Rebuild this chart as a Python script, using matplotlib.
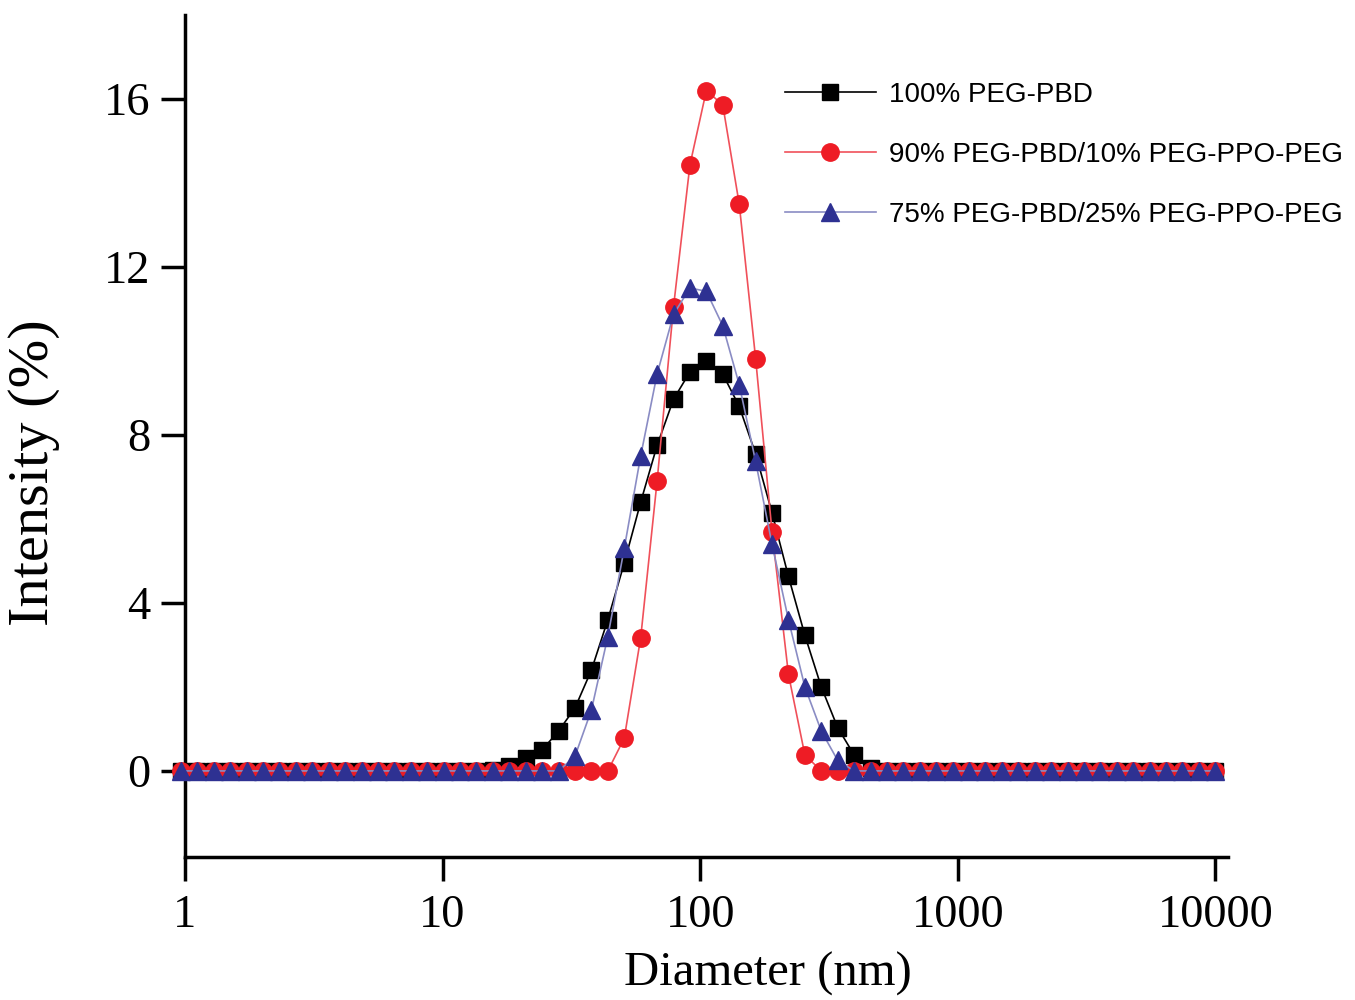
import matplotlib
matplotlib.use("Agg")
import matplotlib.pyplot as plt
from matplotlib.ticker import FixedLocator, NullLocator

# DLS size classes (nm)
diameter = [0.9649, 1.117, 1.294, 1.499, 1.736, 2.010, 2.328, 2.696, 3.122, 3.615,
            4.187, 4.849, 5.615, 6.503, 7.531, 8.721, 10.10, 11.70, 13.54, 15.69,
            18.17, 21.04, 24.36, 28.21, 32.67, 37.84, 43.82, 50.75, 58.77, 68.06,
            78.82, 91.28, 105.7, 122.4, 141.8, 164.2, 190.1, 220.2, 255.0, 295.3,
            342.0, 396.1, 458.7, 531.2, 615.1, 712.4, 825.0, 955.4, 1106, 1281,
            1484, 1718, 1990, 2305, 2669, 3091, 3580, 4145, 4801, 5560,
            6439, 7456, 8635, 10000]

peg_pbd_100 = [0, 0, 0, 0, 0, 0, 0, 0, 0, 0,
               0, 0, 0, 0, 0, 0, 0, 0, 0, 0.03,
               0.12, 0.3, 0.5, 0.95, 1.5, 2.4, 3.6, 4.95, 6.4, 7.75,
               8.85, 9.5, 9.75, 9.45, 8.68, 7.55, 6.15, 4.63, 3.23, 2.0,
               1.03, 0.38, 0.08, 0, 0, 0, 0, 0, 0, 0,
               0, 0, 0, 0, 0, 0, 0, 0, 0, 0,
               0, 0, 0, 0]

peg_pbd_90 = [0, 0, 0, 0, 0, 0, 0, 0, 0, 0,
              0, 0, 0, 0, 0, 0, 0, 0, 0, 0,
              0, 0, 0, 0, 0, 0, 0, 0.78, 3.17, 6.9,
              11.05, 14.43, 16.2, 15.86, 13.5, 9.82, 5.7, 2.3, 0.38, 0,
              0, 0, 0, 0, 0, 0, 0, 0, 0, 0,
              0, 0, 0, 0, 0, 0, 0, 0, 0, 0,
              0, 0, 0, 0]

peg_pbd_75 = [0, 0, 0, 0, 0, 0, 0, 0, 0, 0,
              0, 0, 0, 0, 0, 0, 0, 0, 0, 0,
              0, 0, 0, 0, 0.35, 1.45, 3.2, 5.3, 7.5, 9.45,
              10.87, 11.5, 11.42, 10.6, 9.2, 7.37, 5.4, 3.6, 2.0, 0.95,
              0.25, 0, 0, 0, 0, 0, 0, 0, 0, 0,
              0, 0, 0, 0, 0, 0, 0, 0, 0, 0,
              0, 0, 0, 0]

labels = ["100% PEG-PBD",
          "90% PEG-PBD/10% PEG-PPO-PEG",
          "75% PEG-PBD/25% PEG-PPO-PEG"]

x_ticks = [1, 10, 100, 1000, 10000]
y_ticks = [0, 4, 8, 12, 16]

fig = plt.figure(figsize=(13.55, 10), dpi=100)
ax = fig.add_axes([0.1365, 0.143, 0.77, 0.842])

ax.plot(diameter, peg_pbd_100, color="black", lw=1.2, marker="s", ms=11,
        mfc="black", mec="black", clip_on=False, zorder=3, label=labels[0])
ax.plot(diameter, peg_pbd_90, color="#f0505a", lw=1.2, marker="o", ms=12.5,
        mfc="#ee1c25", mec="#ee1c25", clip_on=False, zorder=4, label=labels[1])
ax.plot(diameter, peg_pbd_75, color="#8a8cc4", lw=1.2, marker="^", ms=13,
        mfc="#2e3192", mec="#2e3192", clip_on=False, zorder=5, label=labels[2])

ax.set_xscale("log")
ax.set_xlim(1, 11230)
ax.set_ylim(-2.05, 18)
ax.xaxis.set_major_locator(FixedLocator(x_ticks))
ax.xaxis.set_minor_locator(NullLocator())
ax.set_xticklabels([str(v) for v in x_ticks])
ax.set_yticks(y_ticks)

for s in ["top", "right"]:
    ax.spines[s].set_visible(False)
for s in ["left", "bottom"]:
    ax.spines[s].set_linewidth(2.5)

serif = ["Liberation Serif", "DejaVu Serif"]
ax.tick_params(axis="both", direction="out", length=17, width=2.5, pad=8)
ax.tick_params(axis="x", pad=10)
for lab in ax.get_xticklabels() + ax.get_yticklabels():
    lab.set_family(serif)
    lab.set_fontsize(33.5)

ax.set_xlabel("Diameter (nm)", family=serif, fontsize=35)
ax.xaxis.set_label_coords(0.559, -0.113)
ax.set_ylabel("Intensity (%)", family=serif, fontsize=42)
ax.yaxis.set_label_coords(-0.12, 0.457)

leg = ax.legend(loc="upper left", bbox_to_anchor=(0.579, 0.918),
                bbox_transform=fig.transFigure, frameon=False,
                prop={"family": "Liberation Sans", "size": 20},
                handlelength=3.3, handletextpad=0.45, labelspacing=1.22,
                borderpad=0, borderaxespad=0)

fig.savefig("out.png", dpi=100)
